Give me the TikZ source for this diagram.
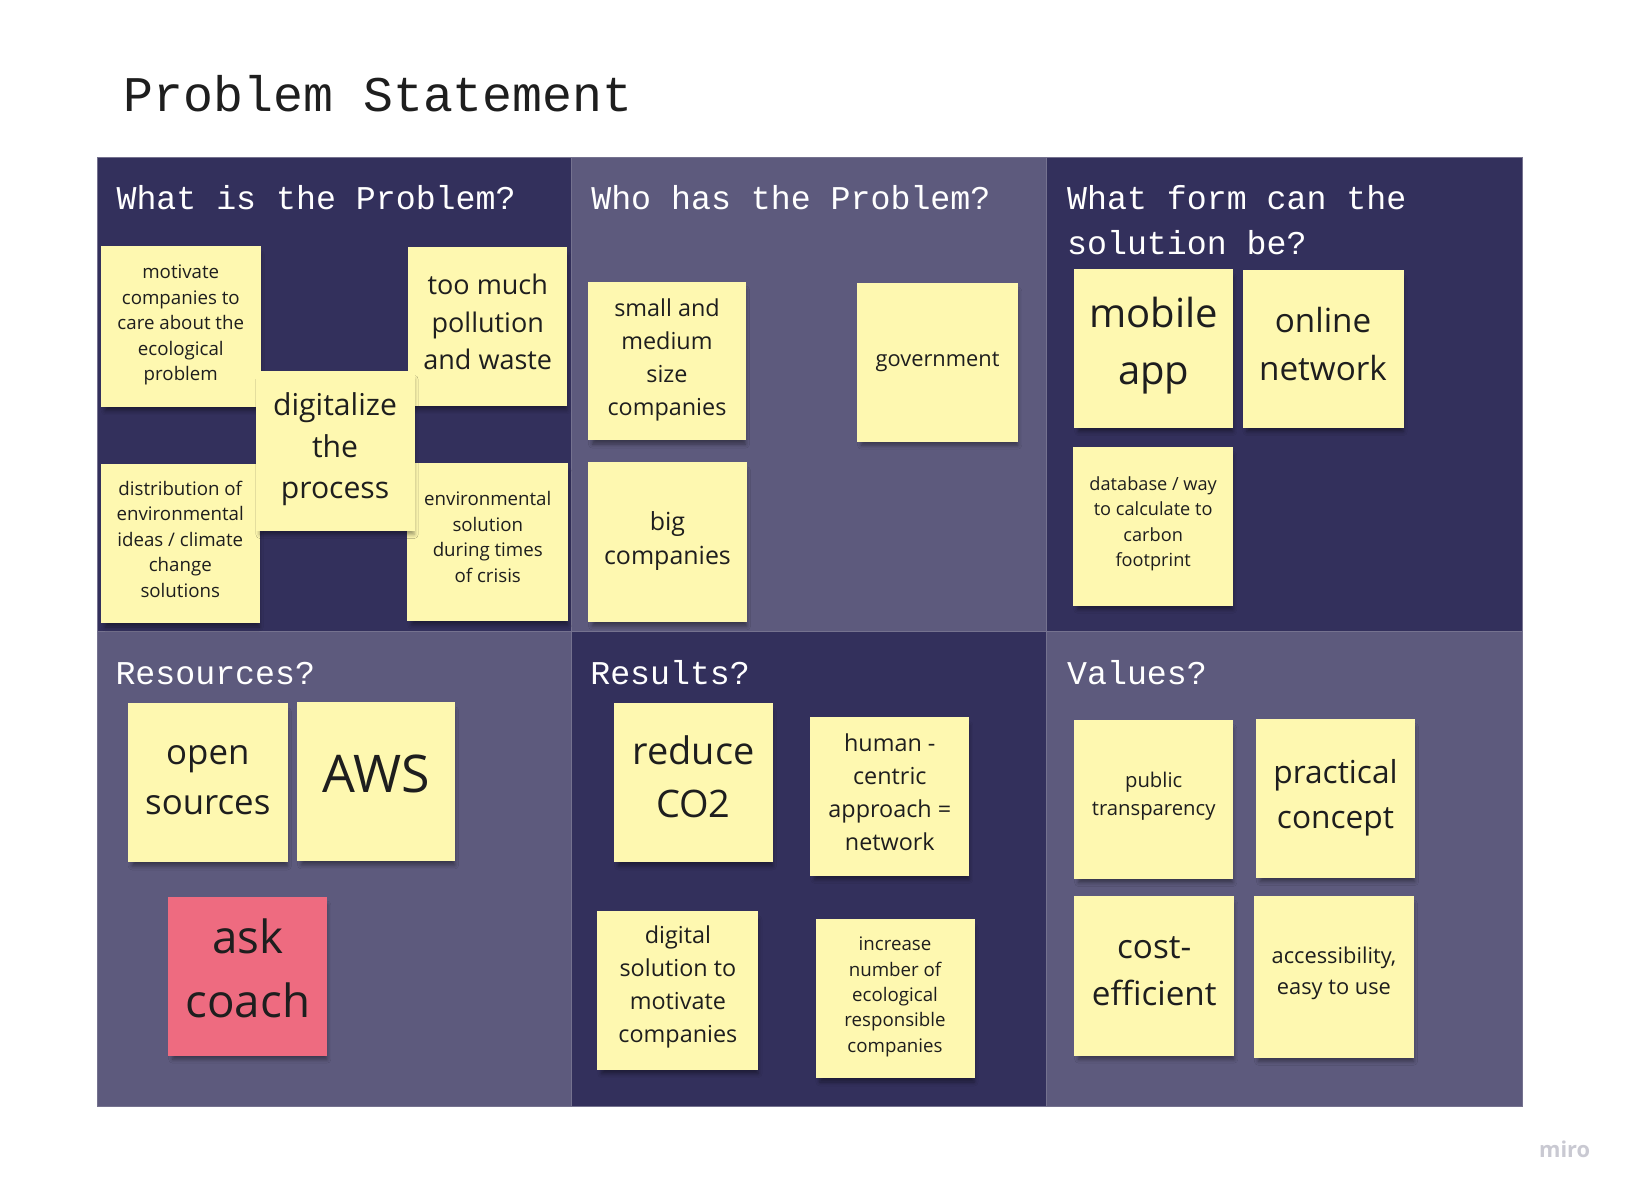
\documentclass[tikz,border=0pt]{standalone}
\usepackage{fontspec}
\setmainfont{Open Sans}
\newfontfamily\monof{Liberation Mono}
\usetikzlibrary{shadows.blur}
\definecolor{darkp}{HTML}{33305C}
\definecolor{lightp}{HTML}{5D5A7D}
\definecolor{panelline}{HTML}{75728F}
\definecolor{yel}{HTML}{FEF8B0}
\definecolor{pinkn}{HTML}{EE6B80}
\definecolor{ink}{HTML}{1E1E1E}
\definecolor{mirog}{HTML}{C9C9D2}
\tikzset{
  panel/.style={draw=panelline, line width=1pt, inner sep=0pt, anchor=north west},
  head/.style={text=white, inner sep=0pt, anchor=base west, font=\monof\fontsize{32}{43}\selectfont},
  note/.style={fill=yel, draw=none, inner sep=0pt,
    blur shadow={shadow xshift=2pt, shadow yshift=-6pt, shadow scale=0.97, shadow blur radius=4pt, shadow opacity=40}},
  ntext/.style={text=ink, inner sep=0pt, align=center}
}
\newcommand\sticky[9]{%
  \node[note, minimum width=#4pt, minimum height=#5pt] (#1) at (#2,#3) {};
  \node[ntext, font={\fontsize{#7}{#8}\selectfont}] (#1-t) at (#2,#6) {#9};}
\begin{document}
\begin{tikzpicture}[x=1pt,y=-1pt]
\useasboundingbox[fill=white] (0,0) rectangle (1568,1150);
% title
\node[anchor=base west, inner sep=0pt, text=ink, font=\monof\fontsize{48}{58}\selectfont] (title) at (119,107) {Problem Statement};
% panels
\node[panel, fill=darkp,  minimum width=457pt, minimum height=456pt] (p1) at (93,151) {};
\node[panel, fill=lightp, minimum width=457pt, minimum height=456pt] (p2) at (550,151) {};
\node[panel, fill=darkp,  minimum width=458pt, minimum height=456pt] (p3) at (1007,151) {};
\node[panel, fill=lightp, minimum width=457pt, minimum height=458pt] (p4) at (93,607) {};
\node[panel, fill=darkp,  minimum width=457pt, minimum height=458pt] (p5) at (550,607) {};
\node[panel, fill=lightp, minimum width=458pt, minimum height=458pt] (p6) at (1007,607) {};
% headings
\node[head] (h1) at (112,202) {What is the Problem?};
\node[head] (h2) at (569,202) {Who has the Problem?};
\node[head] (h3a) at (1027,202) {What form can the};
\node[head] (h3b) at (1027,245) {solution be?};
\node[head] (h4) at (111,659) {Resources?};
\node[head] (h5) at (568,659) {Results?};
\node[head] (h6) at (1027,659) {Values?};
% panel 1
\sticky{motivate}{174}{314.5}{154}{155}{313}{18}{24.5}{motivate\\companies to\\care about the\\ecological\\problem}
\sticky{pollution}{469.5}{314.5}{153}{153}{310}{26}{36}{too much\\pollution\\and waste}
\sticky{distribution}{173.5}{523.5}{153}{153}{519}{18}{24.5}{distribution of\\environmental\\ideas / climate\\change\\solutions}
\sticky{envsol}{469.5}{522}{155}{152}{517}{18}{24.5}{environmental\\solution\\during times\\of crisis}
\sticky{digitalize}{322.5}{434}{153}{154}{432.5}{29}{40}{digitalize\\the\\process}
% panel 2
\sticky{small}{642}{347.5}{152}{153}{346.5}{22.5}{32}{small and\\medium\\size\\companies}
\sticky{government}{902.5}{348.5}{155}{153}{348}{21}{29}{government}
\sticky{big}{642.5}{522}{153}{154}{520.5}{24}{33}{big\\companies}
% panel 3
\sticky{mobile}{1110.5}{335.5}{153}{153}{332.5}{38.5}{55}{mobile\\app}
\sticky{online}{1273.5}{336}{155}{152}{331}{32}{46}{online\\network}
\sticky{database}{1110}{506.5}{154}{153}{504}{17.5}{24.5}{database / way\\to calculate to\\carbon\\footprint}
% panel 4
\sticky{open}{200}{753.5}{154}{153}{751}{33.5}{48}{open\\sources}
\sticky{aws}{362}{752.5}{152}{153}{745}{50}{60}{AWS}
\node[note, fill=pinkn, minimum width=153pt, minimum height=153pt] (coach) at (238.5,939.5) {};
\node[ntext, font={\fontsize{44}{62}\selectfont}] (coach-t) at (238.5,932) {ask\\coach};
% panel 5
\sticky{reduce}{667.5}{753.5}{153}{153}{747.5}{36.5}{51}{reduce\\CO2}
\sticky{human}{856.5}{766.5}{153}{153}{762.5}{22.5}{32}{human -\\centric\\approach =\\network}
\sticky{digital}{652.5}{953.5}{155}{153}{950}{22.5}{32}{digital\\solution to\\motivate\\companies}
\sticky{increase}{861.5}{961.5}{153}{153}{959.5}{18}{24.5}{increase\\number of\\ecological\\responsible\\companies}
% panel 6
\sticky{public}{1110.5}{769.5}{153}{153}{766.5}{19.5}{27}{public\\transparency}
\sticky{practical}{1285.5}{768.5}{153}{153}{768}{30.5}{44}{practical\\concept}
\sticky{cost}{1111}{939}{154}{154}{934.5}{32}{45}{cost-\\efficient}
\sticky{access}{1284}{940}{154}{156}{937}{21}{30}{accessibility,\\easy to use}
% logo text
\node[inner sep=0pt, text=mirog, font=\bfseries\fontsize{21}{26}\selectfont] (miro) at (1506,1106) {miro};
\end{tikzpicture}
\end{document}
